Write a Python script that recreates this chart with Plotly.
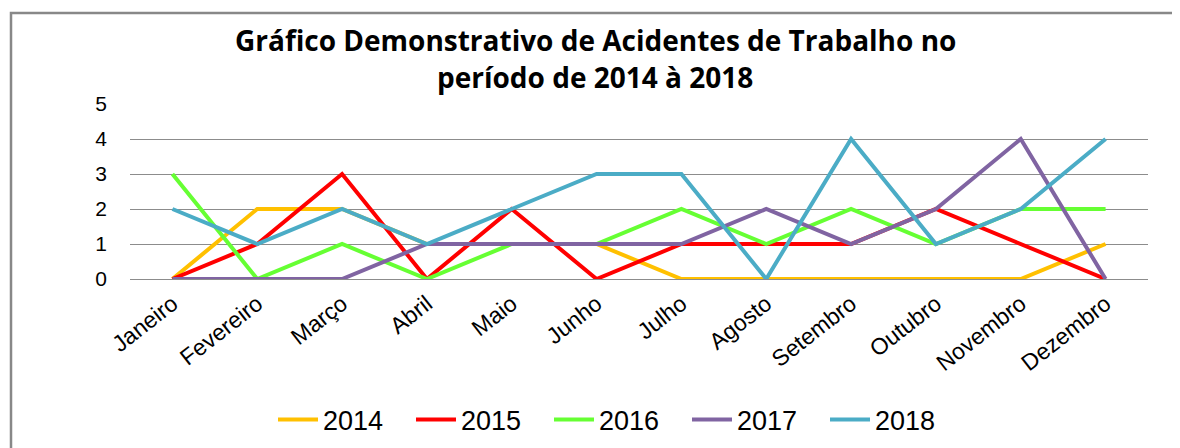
import plotly.graph_objects as go

months = ["Janeiro", "Fevereiro", "Março", "Abril", "Maio", "Junho", "Julho",
          "Agosto", "Setembro", "Outubro", "Novembro", "Dezembro"]
s2014 = [0, 2, 2, 1, 1, 1, 0, 0, 0, 0, 0, 1]
s2015 = [0, 1, 3, 0, 2, 0, 1, 1, 1, 2, 1, 0]
s2016 = [3, 0, 1, 0, 1, 1, 2, 1, 2, 1, 2, 2]
s2017 = [0, 0, 0, 1, 1, 1, 1, 2, 1, 2, 4, 0]
s2018 = [2, 1, 2, 1, 2, 3, 3, 0, 4, 1, 2, 4]
series_names = ["2014", "2015", "2016", "2017", "2018"]
colors = ["#FFC000", "#FF0000", "#66FF33", "#8064A2", "#4BACC6"]
title_lines = ["Gráfico Demonstrativo de Acidentes de Trabalho no",
               "período de 2014 à 2018"]

# page body adds an 8px offset; compensate
OFF = 8
W, H = 1180, 448
L, R, T, B = 130 - OFF, 1148 - OFF, 104 - OFF, 279 - OFF

fig = go.Figure()
for name, vals, c in zip(series_names, [s2014, s2015, s2016, s2017, s2018], colors):
    fig.add_trace(go.Scatter(x=months, y=vals, name=name, mode="lines",
                             line=dict(color=c, width=4)))

pw, ph = R - L, B - T
def px(x):
    return (x - OFF - L) / pw
def py(y):
    return (B - (y - OFF)) / ph

annotations = [
    dict(text=t, xref="paper", yref="paper", x=px(595), y=py(yy),
         xanchor="center", yanchor="middle", showarrow=False,
         font=dict(family="Open Sans", size=28, color="black", weight="bold"))
    for t, yy in zip(title_lines, [39.5, 77])
]

fig.update_layout(
    width=W, height=H,
    margin=dict(l=L, r=W - R, t=T, b=H - B, pad=0, autoexpand=False),
    paper_bgcolor="white", plot_bgcolor="white",
    font=dict(family="Liberation Sans, Arial", color="black"),
    xaxis=dict(showgrid=False, tickangle=-38, tickfont=dict(size=23),
               ticks="", showline=False, range=[-0.5, 11.5], fixedrange=True,
               automargin=False, ticklabelstandoff=6),
    yaxis=dict(range=[0, 5], dtick=1, showgrid=True, gridcolor="#8c8c8c", gridwidth=1,
               tickfont=dict(size=21), zeroline=True, zerolinecolor="#8c8c8c",
               zerolinewidth=1, ticklabelstandoff=22, fixedrange=True,
               automargin=False),
    legend=dict(orientation="h", x=px(618), xanchor="center", y=py(420),
                yanchor="middle", font=dict(size=27), itemwidth=40,
                entrywidth=83, entrywidthmode="pixels",
                traceorder="normal"),
    showlegend=True,
    annotations=annotations,
    shapes=[dict(type="rect", xref="paper", yref="paper",
                 x0=px(11), x1=px(1200), y0=py(470), y1=py(13),
                 line=dict(color="#888888", width=2.5), fillcolor="rgba(0,0,0,0)",
                 layer="below")],
)

fig.write_html("out.html")
